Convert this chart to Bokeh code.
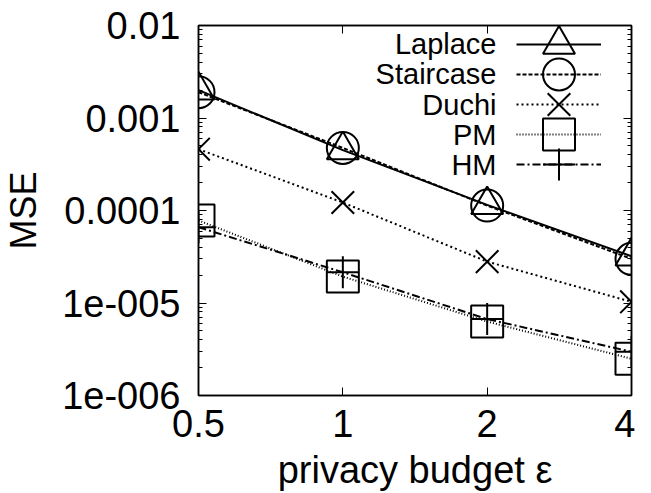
from bokeh.plotting import figure
from bokeh.models import FixedTicker, LogAxis, Legend, LegendItem, Label, Range1d
from bokeh.core.properties import value
from bokeh.embed import file_html
from bokeh.resources import INLINE

# ---------------- data ----------------
eps = [0.5, 1, 2, 4]
x_tick_labels = ["0.5", "1", "2", "4"]
y_ticks = [1e-6, 1e-5, 1e-4, 1e-3, 1e-2]
y_tick_labels = ["1e-006", "1e-005", "0.0001", "0.001", "0.01"]

series_names = ["Laplace", "Staircase", "Duchi", "PM", "HM"]
laplace = [2.0e-3, 4.5e-4, 1.15e-4, 3.2e-5]
staircase = [1.9e-3, 4.75e-4, 1.13e-4, 3.0e-5]
duchi = [4.6e-4, 1.22e-4, 2.8e-5, 1.03e-5]
pm = [7.8e-5, 1.93e-5, 6.3e-6, 2.5e-6]
hm = [6.6e-5, 2.15e-5, 6.7e-6, 2.97e-6]

FONT = "Liberation Sans"

p = figure(width=635, height=493, x_axis_type="log", y_axis_type="log",
           x_range=Range1d(0.5, 4), y_range=Range1d(1e-6, 1e-2),
           output_backend="svg", toolbar_location=None,
           min_border_left=192, min_border_right=4,
           min_border_top=25, min_border_bottom=96)
p.grid.visible = False
p.outline_line_color = "black"
p.outline_line_width = 1.5
p.background_fill_color = "white"
p.border_fill_color = "white"

y_minor = [m * 10.0 ** e for e in range(-6, -2) for m in range(2, 10)]
x_over = {v: s for v, s in zip(eps, x_tick_labels)}
y_over = {v: s for v, s in zip(y_ticks, y_tick_labels)}


def style_axis(ax, labels=True):
    ax.axis_line_color = "black"
    ax.axis_line_width = 1.5
    ax.major_tick_in = 8
    ax.major_tick_out = 0
    ax.minor_tick_in = 4
    ax.minor_tick_out = 0
    ax.major_tick_line_color = "black"
    ax.minor_tick_line_color = "black"
    ax.major_tick_line_width = 1
    ax.minor_tick_line_width = 1
    ax.major_label_text_font = FONT
    ax.major_label_text_font_size = "38px"
    ax.major_label_text_color = "black"
    ax.axis_label_text_font = FONT
    ax.axis_label_text_font_size = "38px"
    ax.axis_label_text_font_style = "normal"
    ax.axis_label_text_color = "black"
    if not labels:
        ax.major_label_text_font_size = "0px"
        ax.major_label_text_color = None
        ax.major_label_standoff = 0


xa = p.xaxis[0]
ya = p.yaxis[0]
xa.ticker = FixedTicker(ticks=eps, minor_ticks=[])
ya.ticker = FixedTicker(ticks=y_ticks, minor_ticks=y_minor)
xa.major_label_overrides = x_over
ya.major_label_overrides = y_over
style_axis(xa)
style_axis(ya)
xa.axis_label = "privacy budget \u03b5"
ya.axis_label = "MSE"
ya.axis_label_text_font_size = "36px"
xa.major_label_standoff = 14
xa.axis_label_standoff = 9
ya.major_label_standoff = 18
ya.axis_label_standoff = 15

top = LogAxis(ticker=FixedTicker(ticks=eps, minor_ticks=[]))
right = LogAxis(ticker=FixedTicker(ticks=y_ticks, minor_ticks=y_minor))
style_axis(top, labels=False)
style_axis(right, labels=False)
p.add_layout(top, "above")
p.add_layout(right, "right")

styles = [
    (laplace, "triangle", None, 32),
    (staircase, "circle", "4 2", 32),
    (duchi, "x", "2 3", 32),
    (pm, "square", "1 2", 32),
    (hm, "cross", "8 3 2 3", 32),
]

# legend geometry (screen px relative to the plot frame)
LEG_X = 318          # left edge of the glyph sample
ROW0 = 20.7          # first row centre below frame top
ROW_STEP = 30.15
FRAME_H = 372
GLYPH_H = 80

for i, (name, (ys, marker, dash, size)) in enumerate(zip(series_names, styles)):
    lkw = dict(line_color="black", line_width=2)
    if dash:
        lkw["line_dash"] = dash
    l = p.line(eps, ys, **lkw)
    s = p.scatter(eps, ys, marker=marker, size=size, line_color="black",
                  line_width=2, fill_color=None)
    centre_from_bottom = FRAME_H - (ROW0 + ROW_STEP * i)
    leg = Legend(items=[LegendItem(label=value(""), renderers=[l, s])],
                 location=(LEG_X, centre_from_bottom - GLYPH_H / 2),
                 glyph_width=85, glyph_height=GLYPH_H,
                 padding=0, margin=0, label_width=0, label_height=0,
                 label_standoff=0, label_text_font_size="1px",
                 background_fill_alpha=0, border_line_alpha=0)
    p.add_layout(leg)
    p.add_layout(Label(x=LEG_X - 20, y=centre_from_bottom, x_units="screen", y_units="screen",
                       text=name, text_align="right", text_baseline="middle",
                       text_font=FONT, text_font_size="29px", text_color="black"))

open("out.html", "w").write(file_html(p, INLINE))
